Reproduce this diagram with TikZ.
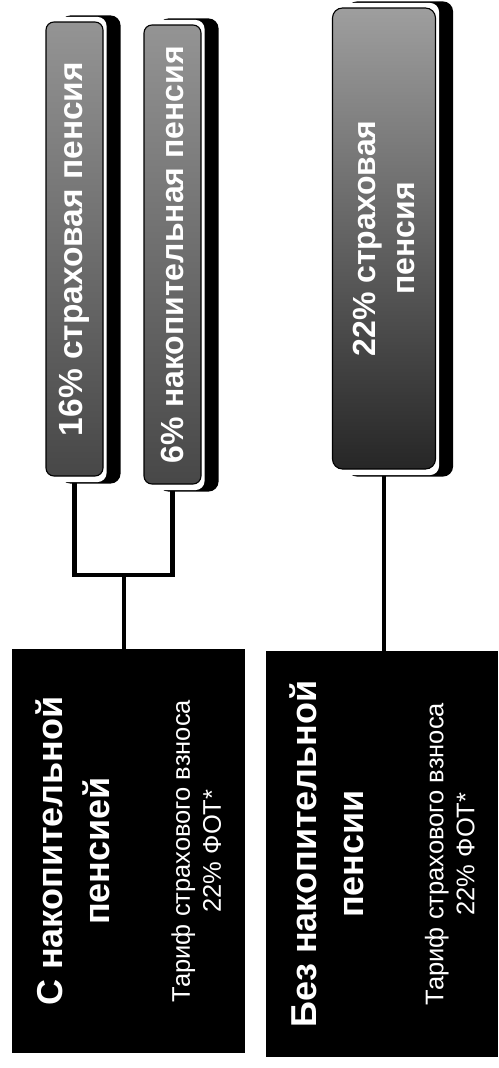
\documentclass[tikz,border=0pt]{standalone}
\usepackage{fontspec}
\setmainfont{Liberation Sans}
\usetikzlibrary{backgrounds}
\begin{document}
\begin{tikzpicture}[x=1pt,y=-1pt,
  conn/.style={line width=4.2pt},
  graybox/.style={draw=black, line width=1.1pt, rounded corners=8pt, inner sep=0pt,
    text=white, font=\bfseries, top color=black!42, bottom color=black!72},
  blackbox/.style={fill=black, inner sep=0pt, text=white},
  shadowblack/.style={fill=black, rounded corners=10pt},
  shadowwhite/.style={fill=white, rounded corners=9pt}]
\useasboundingbox (0,0) rectangle (498,1068);

% gray result boxes
\node[graybox, minimum width=57pt, minimum height=454pt] (g1) at (74.5,249)
  {\rotatebox{90}{\fontsize{33.5}{38}\selectfont 16\% страховая пенсия}};
\node[graybox, minimum width=57pt, minimum height=459pt] (g2) at (172.5,254.5)
  {\rotatebox{90}{\fontsize{32}{38}\selectfont 6\% накопительная пенсия}};
\node[graybox, rounded corners=10pt, top color=black!38, bottom color=black!85,
  minimum width=103pt, minimum height=461pt] (g3) at (384,238.5)
  {\rotatebox{90}{\parbox{300pt}{\centering\fontsize{32}{39}\selectfont 22\% страховая\\пенсия}}};

% black option boxes
\node[blackbox, minimum width=233pt, minimum height=404pt] (b1) at (128.5,851)
  {\rotatebox{90}{\parbox{390pt}{\centering\fontsize{36}{47}\selectfont\bfseries
   С накопительной\\пенсией\par\vspace{49pt}\fontsize{25.5}{31}\selectfont\mdseries
   Тариф страхового взноса\\22\% ФОТ*\par}}};
\node[blackbox, minimum width=232pt, minimum height=406pt] (b2) at (382,854)
  {\rotatebox{90}{\parbox{390pt}{\centering\fontsize{36}{47}\selectfont\bfseries
   Без накопительной\\пенсии\par\vspace{49pt}\fontsize{25.5}{31}\selectfont\mdseries
   Тариф страхового взноса\\22\% ФОТ*\par}}};

\coordinate (j) at (124,575);

\begin{scope}[on background layer]
  % connectors
  \draw[conn] (g1.south) |- (j) -| (g2.south);
  \draw[conn] (j) -- (j |- b1.north);
  \draw[conn] (g3.south) -- (g3.south |- b2.north);
  % shadows and white rims of the gray boxes
  \foreach \g in {g1,g2,g3}{
    \fill[shadowblack] ([xshift=15pt,yshift=6pt]\g.north west) rectangle ([xshift=17pt,yshift=-7pt]\g.south east);
    \fill[shadowwhite] ([xshift=-2pt,yshift=4.5pt]\g.north west) rectangle ([xshift=3pt,yshift=-5.5pt]\g.south east);
  }
\end{scope}
\end{tikzpicture}
\end{document}
